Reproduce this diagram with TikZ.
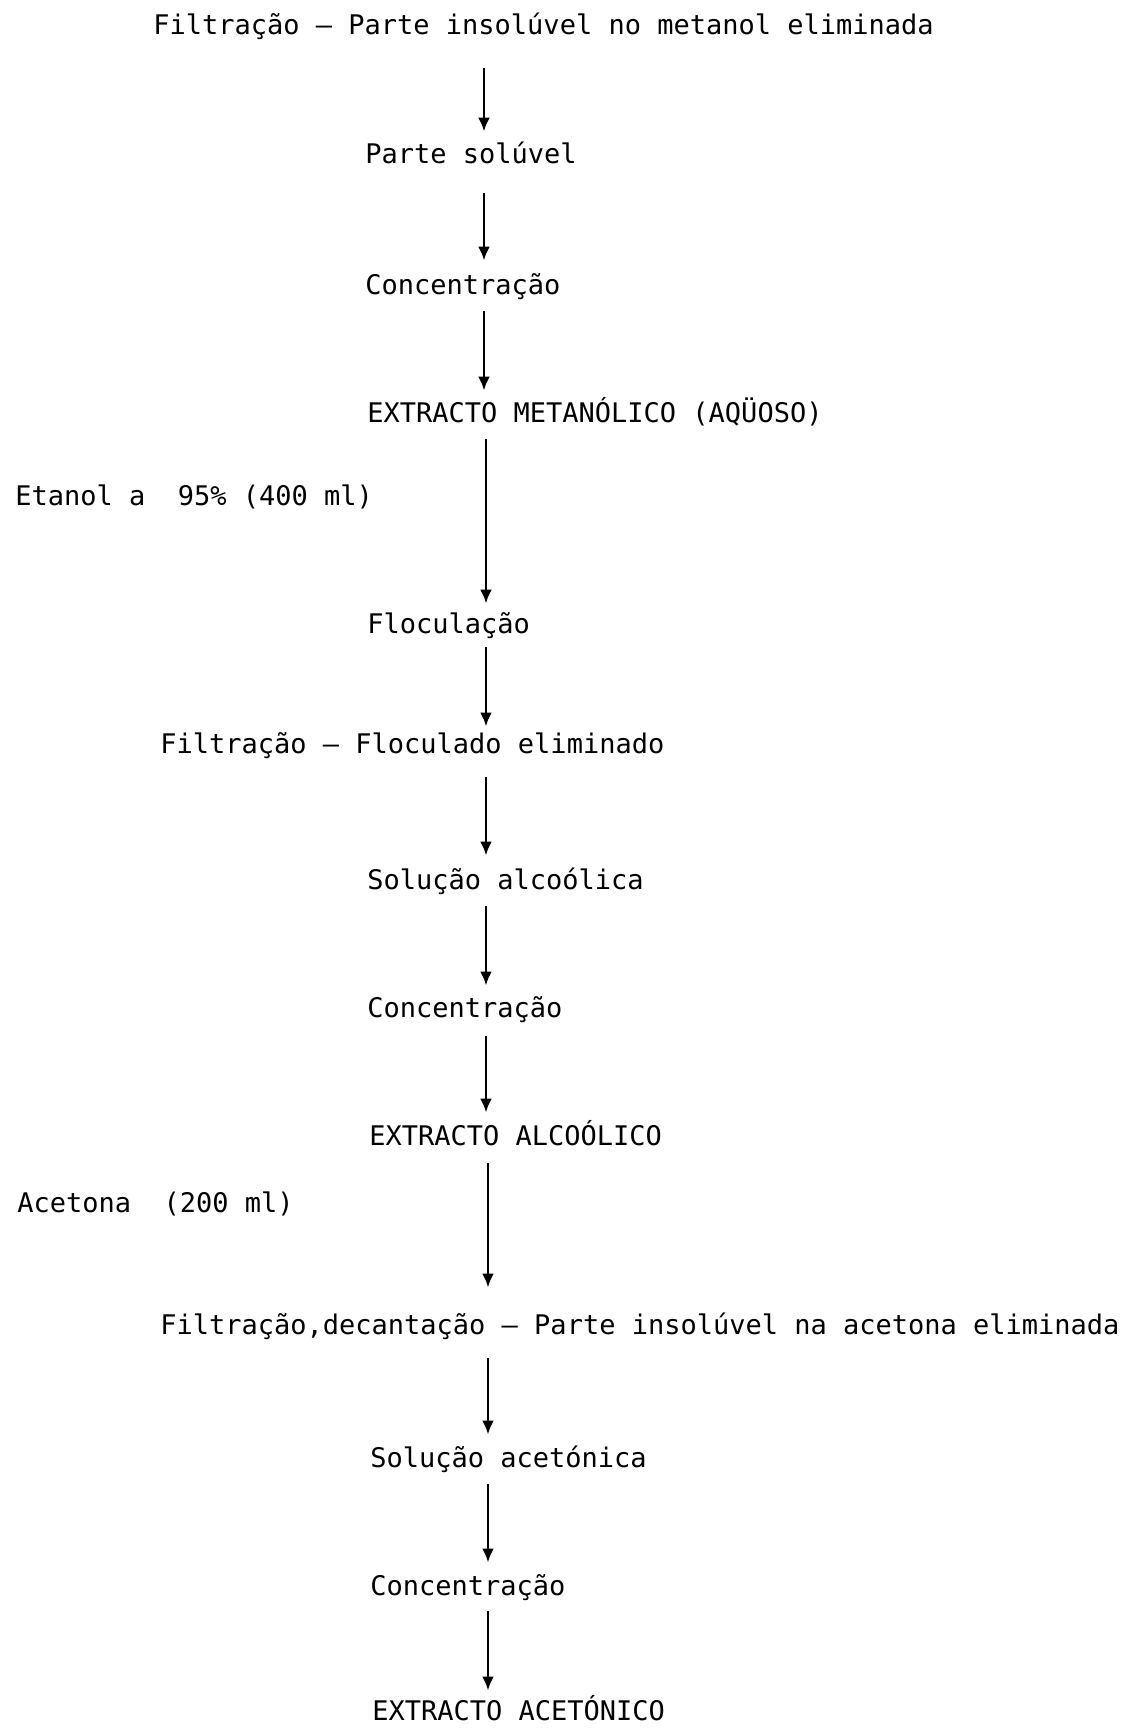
\documentclass[tikz,border=0pt]{standalone}
\usepackage{fontspec}
\setmainfont{DejaVu Sans Mono}
\usetikzlibrary{arrows.meta}
\tikzset{
  lbl/.style={anchor=base west, inner sep=0pt, text height=10pt, text depth=3pt, font=\fontsize{13.5pt}{16pt}\selectfont},
  arr/.style={line width=1.4pt, -{Latex[length=7pt,width=6pt]}}
}
\begin{document}
\begin{tikzpicture}[x=0.5pt,y=-0.5pt]
\useasboundingbox (0,0) rectangle (1125,1728);
\node[lbl] (n1) at (153,35) {Filtração — Parte insolúvel no metanol eliminada};
\node[lbl] (n2) at (365,164) {Parte solúvel};
\node[lbl] (n3) at (365,294) {Concentração};
\node[lbl] (n4) at (367,422) {EXTRACTO METANÓLICO (AQÜOSO)};
\node[lbl] (n5) at (15,505) {Etanol a~~95\% (400 ml)};
\node[lbl] (n6) at (367,633) {Floculação};
\node[lbl] (n7) at (160,753) {Filtração — Floculado eliminado};
\node[lbl] (n8) at (367,889) {Solução alcoólica};
\node[lbl] (n9) at (367,1017) {Concentração};
\node[lbl] (n10) at (369,1145) {EXTRACTO ALCOÓLICO};
\node[lbl] (n11) at (17,1212) {Acetona~~(200 ml)};
\node[lbl] (n12) at (160,1334) {Filtração,decantação — Parte insolúvel na acetona eliminada};
\node[lbl] (n13) at (370,1467) {Solução acetónica};
\node[lbl] (n14) at (370,1595) {Concentração};
\node[lbl] (n15) at (372,1720) {EXTRACTO ACETÓNICO};
\coordinate (xa) at (484,0);
\coordinate (xb) at (486,0);
\coordinate (xc) at (488,0);
\draw[arr, shorten <=13.5pt, shorten >=6pt] (n1.south -| xa) -- (n2.north -| xa);
\draw[arr, shorten <=11.5pt, shorten >=6.5pt] (n2.south -| xa) -- (n3.north -| xa);
\draw[arr, shorten <=5.5pt, shorten >=5.5pt] (n3.south -| xa) -- (n4.north -| xa);
\draw[arr, shorten <=5.5pt, shorten >=4.5pt] (n4.south -| xb) -- (n6.north -| xb);
\draw[arr, shorten <=4pt, shorten >=3pt] (n6.south -| xb) -- (n7.north -| xb);
\draw[arr, shorten <=9pt, shorten >=6.5pt] (n7.south -| xb) -- (n8.north -| xb);
\draw[arr, shorten <=5.5pt, shorten >=5.5pt] (n8.south -| xb) -- (n9.north -| xb);
\draw[arr, shorten <=6.5pt, shorten >=6pt] (n9.south -| xb) -- (n10.north -| xb);
\draw[arr, shorten <=6pt, shorten >=13pt] (n10.south -| xc) -- (n12.north -| xc);
\draw[arr, shorten <=9pt, shorten >=6pt] (n12.south -| xc) -- (n13.north -| xc);
\draw[arr, shorten <=5.5pt, shorten >=6pt] (n13.south -| xc) -- (n14.north -| xc);
\draw[arr, shorten <=5pt, shorten >=4.5pt] (n14.south -| xc) -- (n15.north -| xc);
\end{tikzpicture}
\end{document}
